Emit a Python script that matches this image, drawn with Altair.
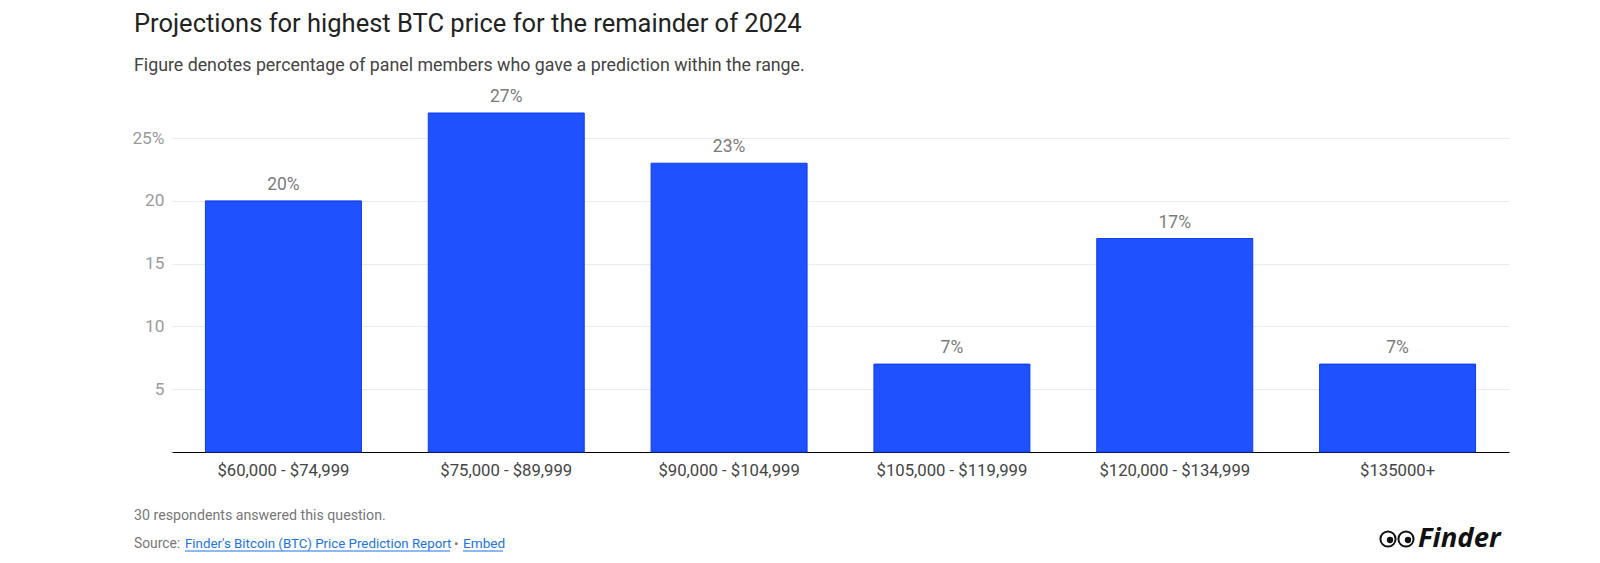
import altair as alt
import pandas as pd

categories = ["$60,000 - $74,999", "$75,000 - $89,999", "$90,000 - $104,999",
              "$105,000 - $119,999", "$120,000 - $134,999", "$135000+"]
values = [20, 27, 23, 7, 17, 7]
labels = ["20%", "27%", "23%", "7%", "17%", "7%"]
y_ticks = [5, 10, 15, 20, 25]

title = "Projections for highest BTC price for the remainder of 2024"
subtitle = "Figure denotes percentage of panel members who gave a prediction within the range."
note = "30 respondents answered this question."

df = pd.DataFrame({"cat": categories, "val": values, "lab": labels})

FONT = "Roboto"
W, H = 1337, 339
OX, OY = 172, 113  # plot origin on page
SVG_W, SVG_H = 1520, 547

x = alt.X("cat:N", sort=categories,
          scale=alt.Scale(paddingInner=0.3, paddingOuter=0.15),
          axis=alt.Axis(title=None, labelAngle=0, labelFontSize=16.7, labelColor="#444444",
                        labelFont=FONT, labelPadding=10, ticks=False, domainColor="#000000",
                        domainWidth=1.2, grid=False))
y = alt.Y("val:Q", scale=alt.Scale(domain=[0, 27], nice=False),
          axis=alt.Axis(title=None, values=y_ticks, labelFontSize=17.3, labelColor="#9a9a9a",
                        labelFont=FONT, labelPadding=8, ticks=False, domain=False,
                        gridColor="#ebebeb", gridWidth=1.2,
                        labelExpr="datum.value == 25 ? '25%' : datum.label"))

base = alt.Chart(df)
bars = base.mark_bar(color="#1f51ff", stroke="#0b3cf2", strokeWidth=1).encode(x=x, y=y)
text = base.mark_text(baseline="bottom", dy=-7, fontSize=17.5, color="#7a7a7a", font=FONT).encode(
    x=alt.X("cat:N", sort=categories), y="val:Q", text="lab:N")

def px(v): return v - OX
def py(v): return v - OY

def label(txt, xp, yp, size, color, weight="normal", style="normal", align="left", font=FONT):
    return alt.Chart(pd.DataFrame({"t": [txt]})).mark_text(
        align=align, baseline="alphabetic", fontSize=size, color=color, font=font,
        fontWeight=weight, fontStyle=style).encode(
        text="t:N", x=alt.value(px(xp)), y=alt.value(py(yp)))

def uline(x1, x2, yp, color):
    return alt.Chart(pd.DataFrame({"a": [0]})).mark_rule(color=color, strokeWidth=1).encode(
        x=alt.value(px(x1)), x2=alt.value(px(x2)), y=alt.value(py(yp)))

def dot(xp, yp, size, fill, stroke, sw):
    return alt.Chart(pd.DataFrame({"a": [0]})).mark_point(
        shape="circle", filled=True, size=size, fill=fill, stroke=stroke, strokeWidth=sw,
        opacity=1).encode(x=alt.value(px(xp)), y=alt.value(py(yp)))

link = "#1a73e8"
layers = [
    bars, text,
    label(title, 134, 32, 25.5, "#222222"),
    label(subtitle, 134, 70.5, 17.8, "#444444"),
    label(note, 134, 520, 14.2, "#777777"),
    label("Source:", 134, 548, 13.8, "#777777"),
    label("Finder's Bitcoin (BTC) Price Prediction Report", 185, 548, 13.3, link),
    uline(185, 450, 551, link),
    label("•", 454, 548, 13.3, "#777777"),
    label("Embed", 463, 548, 13.6, link),
    uline(463, 503, 551, link),
    dot(1388, 539, 230, "white", "#111111", 2),
    dot(1406, 539, 230, "white", "#111111", 2),
    dot(1390, 540, 40, "#111111", "#111111", 0),
    dot(1408, 540, 40, "#111111", "#111111", 0),
    label("Finder", 1418, 547, 27.5, "#111111", weight="bold", style="italic", font="Open Sans"),
]

chart = alt.layer(*layers).properties(
    width=W, height=H,
    autosize=alt.AutoSizeParams(type="none"),
    padding={"left": OX - 8, "top": OY - 8, "right": SVG_W - (OX - 8) - W,
             "bottom": SVG_H - (OY - 8) - H},
    background="white",
).configure_view(stroke=None)

chart.save("out.html", embed_options={"renderer": "svg", "actions": False})
